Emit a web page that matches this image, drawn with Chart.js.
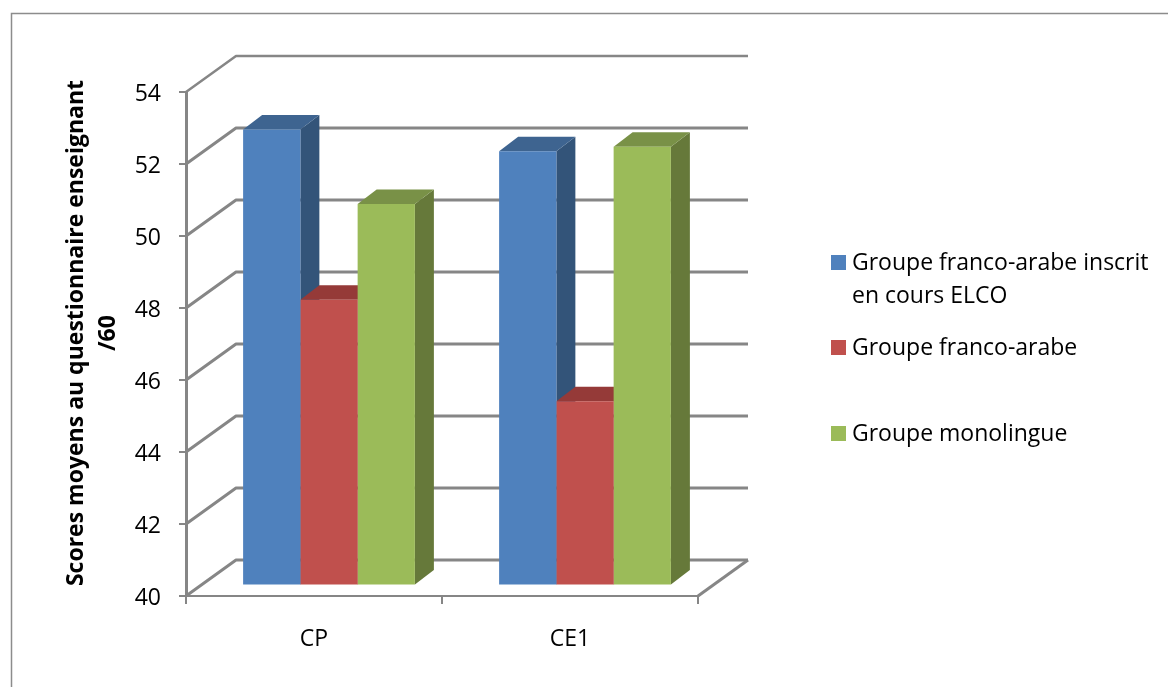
<!DOCTYPE html>
<html>
<head>
<meta charset="utf-8">
<title>Scores moyens</title>
<script src="https://cdn.jsdelivr.net/npm/chart.js@4/dist/chart.umd.min.js"></script>
<style>
  html, body { margin: 0; padding: 0; background: #fff; }
  canvas { display: block; }
</style>
</head>
<body>
<canvas id="scores" width="1168" height="687"></canvas>
<script>
const categories = ['CP', 'CE1'];
const elco = [52.67, 52.06];
const francoArabe = [47.94, 45.12];
const monolingue = [50.6, 52.19];

const seriesNames = ['Groupe franco-arabe inscrit en cours ELCO', 'Groupe franco-arabe', 'Groupe monolingue'];
const legendLines = [['Groupe franco-arabe inscrit', 'en cours ELCO'], ['Groupe franco-arabe'], ['Groupe monolingue']];
const axisTitle = ['Scores moyens au questionnaire enseignant', '/60'];

const front = ['#4F81BD', '#C0504D', '#9BBB59'];
const topFace = ['#3E6490', '#953A38', '#799147'];
const sideFace = ['#335479', '#7F312F', '#66793A'];

const GRID = '#868686';
const FONT = '"Open Sans", sans-serif';
const AXIS_MIN = 40;
const AXIS_MAX = 54;

// how far the back wall and the bars sit from the front plane of the axes
const wall = { dx: 50, dy: -36 };
const barShift = { dx: 15, dy: -10.5 };
const barDepth = { dx: 19, dy: -14.5 };

function poly(ctx, pts, color) {
  ctx.fillStyle = color;
  ctx.beginPath();
  pts.forEach((p, i) => i ? ctx.lineTo(p[0], p[1]) : ctx.moveTo(p[0], p[1]));
  ctx.closePath();
  ctx.fill();
}

const frame3d = {
  id: 'frame3d',
  beforeDatasetsDraw(chart) {
    const { ctx, scales } = chart;
    const y = scales.y, x = scales.x;
    const left = x.left, right = x.right;

    // outer frame, open on the right and at the bottom
    ctx.save();
    ctx.strokeStyle = '#8C8C8C';
    ctx.lineWidth = 1.5;
    ctx.beginPath();
    ctx.moveTo(11.5, 687);
    ctx.lineTo(11.5, 13.5);
    ctx.lineTo(1168, 13.5);
    ctx.stroke();

    // side wall diagonals and back wall lines
    ctx.strokeStyle = GRID;
    ctx.lineJoin = 'bevel';
    y.ticks.forEach(t => {
      const py = y.getPixelForValue(t.value);
      ctx.lineWidth = t.value === AXIS_MAX ? 2.5 : 3;
      ctx.beginPath();
      ctx.moveTo(left, py);
      ctx.lineTo(left + wall.dx, py + wall.dy);
      ctx.lineTo(right + wall.dx, py + wall.dy);
      ctx.stroke();
    });
    const floor = y.getPixelForValue(AXIS_MIN);
    ctx.lineWidth = 3;
    ctx.beginPath();
    ctx.moveTo(right, floor);
    ctx.lineTo(right + wall.dx, floor + wall.dy);
    ctx.stroke();
    ctx.restore();

    // depth of the bars goes in first, the fronts cover what they should
    ctx.save();
    ctx.translate(barShift.dx, barShift.dy);
    chart.data.datasets.forEach((ds, i) => {
      chart.getDatasetMeta(i).data.forEach(bar => {
        const p = bar.getProps(['x', 'y', 'base', 'width'], true);
        const l = p.x - p.width / 2, r = p.x + p.width / 2;
        const d = barDepth;
        poly(ctx, [[r, p.y], [r + d.dx, p.y + d.dy], [r + d.dx, p.base + d.dy], [r, p.base]], sideFace[i]);
        poly(ctx, [[l, p.y], [l + d.dx, p.y + d.dy], [r + d.dx, p.y + d.dy], [r, p.y]], topFace[i]);
      });
    });
    ctx.restore();

    // the fronts are drawn by the controllers on the same shifted plane
    ctx.save();
    ctx.translate(barShift.dx, barShift.dy);
  },
  afterDatasetsDraw(chart) {
    chart.ctx.restore();
  },
  afterDraw(chart) {
    const ctx = chart.ctx;

    // rotated value axis title
    ctx.save();
    ctx.fillStyle = '#000';
    ctx.textAlign = 'center';
    ctx.textBaseline = 'alphabetic';
    ctx.font = 'bold 23px ' + FONT;
    ctx.translate(83, 333);
    ctx.rotate(-Math.PI / 2);
    ctx.fillText(axisTitle[0], 0, 0);
    ctx.fillText(axisTitle[1], 0, 32);
    ctx.restore();

    // legend, with the uneven spacing of the series entries
    const boxTops = [255, 340, 426];
    const baselines = [[270, 303], [355], [441]];
    ctx.save();
    ctx.textBaseline = 'alphabetic';
    ctx.textAlign = 'left';
    ctx.font = '23px ' + FONT;
    legendLines.forEach((lines, i) => {
      ctx.fillStyle = front[i];
      ctx.fillRect(831, boxTops[i], 15, 15);
      ctx.fillStyle = '#000';
      lines.forEach((line, k) => ctx.fillText(line, 852, baselines[i][k]));
    });
    ctx.restore();
  }
};

new Chart(document.getElementById('scores'), {
  type: 'bar',
  plugins: [frame3d],
  data: {
    labels: categories,
    datasets: [elco, francoArabe, monolingue].map((values, i) => ({
      label: seriesNames[i],
      data: values,
      base: AXIS_MIN,
      backgroundColor: front[i],
      borderWidth: 0,
      clip: false,
      categoryPercentage: 0.671,
      barPercentage: 1
    }))
  },
  options: {
    responsive: false,
    animation: false,
    layout: { padding: { left: 0, top: 92, right: 470, bottom: 0 } },
    plugins: { legend: { display: false }, tooltip: { enabled: false } },
    scales: {
      x: {
        afterFit(scale) { scale.height = 91; },
        grid: { drawOnChartArea: false, color: GRID, lineWidth: 2, tickLength: 8 },
        border: { color: GRID, width: 2 },
        ticks: { color: '#000', font: { family: FONT, size: 23 }, padding: 22, maxRotation: 0 }
      },
      y: {
        min: AXIS_MIN,
        max: AXIS_MAX,
        afterFit(scale) { scale.width = 186; },
        grid: { drawOnChartArea: false, color: GRID, lineWidth: 2, tickLength: 7 },
        border: { color: GRID, width: 3 },
        ticks: { stepSize: 2, color: '#000', font: { family: FONT, size: 23 }, padding: 18, labelOffset: 2 }
      }
    }
  }
});
</script>
</body>
</html>
